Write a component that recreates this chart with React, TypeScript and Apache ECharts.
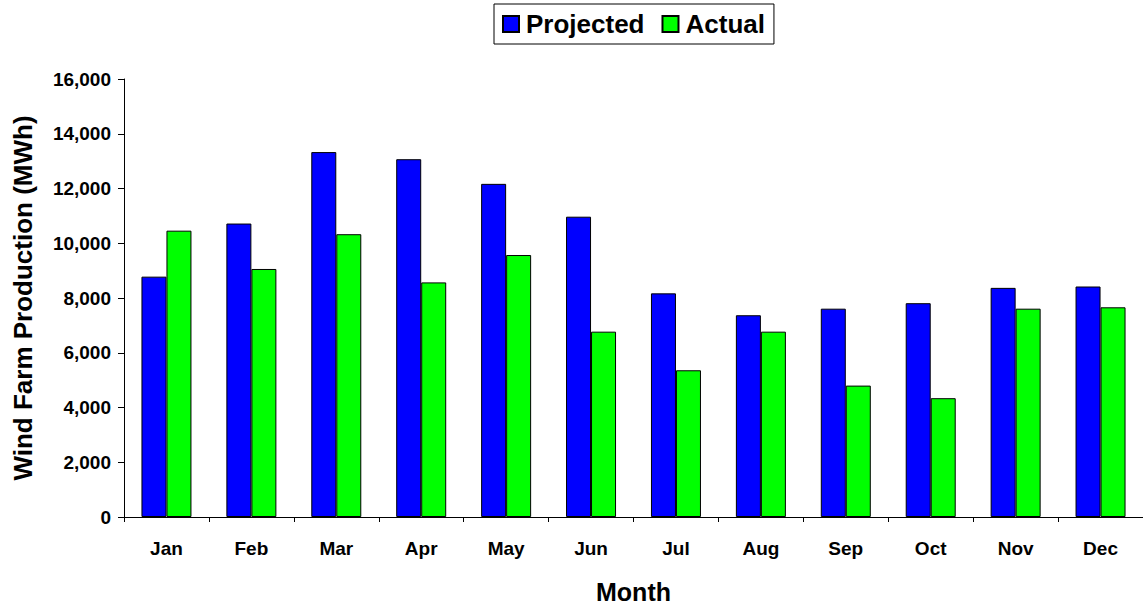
import React, { useEffect, useRef } from "react";
import * as echarts from "echarts";

const months = ["Jan", "Feb", "Mar", "Apr", "May", "Jun", "Jul", "Aug", "Sep", "Oct", "Nov", "Dec"];
const projected = [8780, 10720, 13330, 13070, 12170, 10970, 8170, 7370, 7610, 7810, 8370, 8420];
const actual = [10460, 9060, 10330, 8570, 9570, 6770, 5360, 6770, 4800, 4340, 7610, 7660];
const yTicks = { min: 0, max: 16000, interval: 2000 };

const FONT = 'Arial, "Liberation Sans", sans-serif';

export default function App() {
  const ref = useRef<HTMLDivElement>(null);
  useEffect(() => {
    if (!ref.current) return;
    const chart = echarts.init(ref.current, null, { renderer: "svg" });
    chart.setOption({
      animation: false,
      backgroundColor: "#ffffff",
      textStyle: { fontFamily: FONT },
      legend: {
        left: 494,
        top: 4,
        padding: [7, 9, 7, 8],
        borderColor: "#000",
        borderWidth: 1,
        itemWidth: 16,
        itemHeight: 16,
        itemGap: 17,
        icon: "rect",
        textStyle: { fontSize: 26, fontWeight: "bold", color: "#000", fontFamily: FONT, padding: [0, 0, 0, 2] },
        data: ["Projected", "Actual"],
      },
      grid: { left: 124, top: 79, width: 1027, height: 444, containLabel: false },
      xAxis: {
        type: "category",
        data: months,
        name: "Month",
        nameLocation: "middle",
        nameGap: 62,
        nameTextStyle: { fontSize: 25, fontWeight: "bold", color: "#000", fontFamily: FONT },
        axisLine: { show: true, lineStyle: { color: "#000", width: 1 } },
        axisTick: { show: true, length: 5, lineStyle: { color: "#000" } },
        axisLabel: { fontSize: 19, fontWeight: "bold", color: "#000", margin: 22, fontFamily: FONT },
      },
      yAxis: {
        type: "value",
        min: yTicks.min,
        max: yTicks.max,
        interval: yTicks.interval,
        name: "Wind Farm Production (MWh)",
        nameLocation: "middle",
        nameGap: 88,
        nameTextStyle: { fontSize: 26, fontWeight: "bold", color: "#000", fontFamily: FONT },
        splitLine: { show: false },
        axisLine: { show: true, lineStyle: { color: "#000", width: 1 } },
        axisTick: { show: true, length: 6, lineStyle: { color: "#000" } },
        axisLabel: {
          fontSize: 19,
          fontWeight: "bold",
          color: "#000",
          margin: 13,
          fontFamily: FONT,
          formatter: (v: number) => v.toLocaleString("en-US"),
        },
      },
      series: [
        {
          name: "Projected",
          type: "bar",
          data: projected,
          barWidth: 25,
          barGap: "0%",
          itemStyle: { color: "#0000ff", borderColor: "#000", borderWidth: 1 },
        },
        {
          name: "Actual",
          type: "bar",
          data: actual,
          barWidth: 25,
          barGap: "0%",
          itemStyle: { color: "#00ff00", borderColor: "#000", borderWidth: 1 },
        },
      ],
    });
    return () => chart.dispose();
  }, []);
  return (
    <div
      ref={ref}
      style={{ position: "fixed", left: 0, top: 0, width: 1143, height: 609, background: "#fff" }}
    />
  );
}
